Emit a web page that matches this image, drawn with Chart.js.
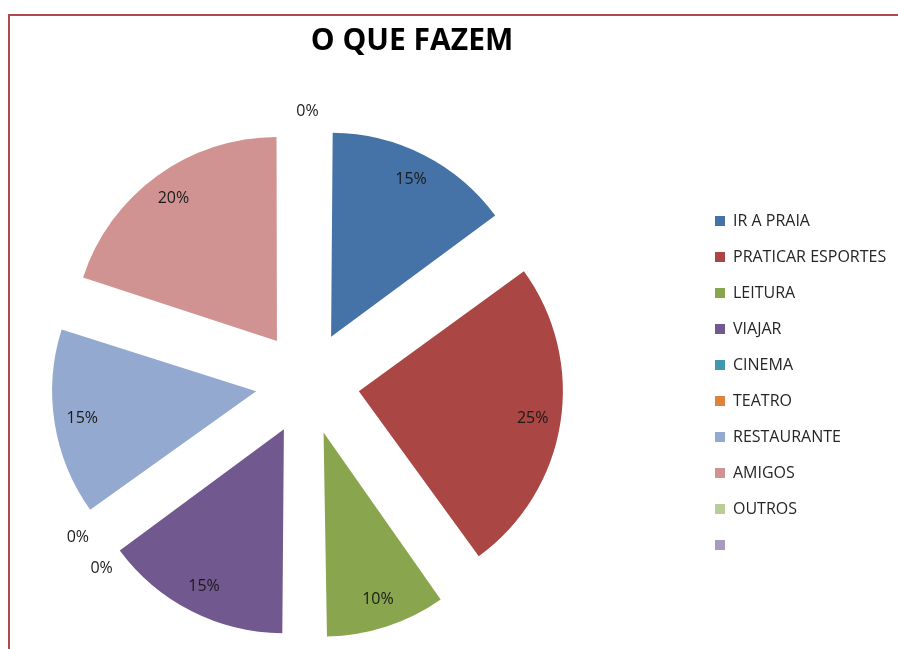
<!DOCTYPE html>
<html>
<head>
<meta charset="utf-8">
<script src="https://cdn.jsdelivr.net/npm/chart.js@4.4.0/dist/chart.umd.min.js"></script>
<style>
  body { margin: 0; background: #fff; overflow: hidden; }
  #caixa { position: relative; width: 898px; height: 649px; overflow: hidden; background: #fff; }
  #moldura { position: absolute; left: 8px; top: 14px; width: 1000px; height: 700px;
    border-top: 2px solid #b04a4d; border-left: 2px solid #b04a4d; }
  #grafico { position: absolute; left: -80px; top: 0; }
</style>
</head>
<body>
<div id="caixa">
  <div id="moldura"></div>
  <canvas id="grafico" width="984" height="649"></canvas>
</div>
<script>
// dados da planilha
let categorias = ["IR A PRAIA", "PRATICAR ESPORTES", "LEITURA", "VIAJAR", "CINEMA", "TEATRO", "RESTAURANTE", "AMIGOS", "OUTROS", ""];
let valores = [15, 25, 10, 15, 0, 0, 15, 20, 0, null];
let cores = ["#4572A7", "#AA4643", "#89A54E", "#71588F", "#4198AF", "#DB843D", "#93A9CF", "#D19392", "#B9CD96", "#A99BBD"];

let raio = 204;
let afastamento = 52; // quanto cada fatia sai do centro
let larguraLegenda = 209;
let fonte = "'Open Sans', Lato, sans-serif";

// legenda com largura fixa, assim a pizza fica no lugar certo
let legendaFixa = {
  id: "legendaFixa",
  beforeInit(chart) {
    let fitOriginal = chart.legend.fit;
    chart.legend.fit = function () {
      fitOriginal.bind(chart.legend)();
      this.width = larguraLegenda;
    };
  },
};

// o Chart.js aumenta o raio das fatias pequenas quando tem offset, aqui desfaz isso
let corrigeRaio = {
  id: "corrigeRaio",
  afterDatasetsUpdate(chart) {
    chart.getDatasetMeta(0).data.forEach((arco) => {
      let fix = 1 - Math.sin(Math.min(Math.PI, arco.circumference || 0));
      arco.outerRadius = raio - afastamento * fix;
    });
  },
};

// rotulos de porcentagem
let rotulos = {
  id: "rotulos",
  afterDatasetsDraw(chart) {
    let ctx = chart.ctx;
    let meta = chart.getDatasetMeta(0);
    let total = valores.reduce((a, b) => a + (b || 0), 0);

    // conta quantos zeros caem no mesmo angulo
    let grupos = {};
    meta.data.forEach((arco, i) => {
      if (valores[i] === 0) {
        let chave = arco.startAngle.toFixed(3);
        grupos[chave] = (grupos[chave] || 0) + 1;
      }
    });
    let vistos = {};

    ctx.save();
    ctx.font = "16px " + fonte;
    ctx.fillStyle = "#1a1a1a";
    ctx.textAlign = "center";
    ctx.textBaseline = "middle";
    meta.data.forEach((arco, i) => {
      if (valores[i] === null) return;
      let meio = (arco.startAngle + arco.endAngle) / 2;
      let r = 228;
      if (valores[i] === 0) {
        let chave = arco.startAngle.toFixed(3);
        let n = vistos[chave] || 0;
        vistos[chave] = n + 1;
        if (grupos[chave] > 1) {
          // separa os rotulos que ficariam um em cima do outro
          meio = meio + ((2 - 8 * n) * Math.PI) / 180;
          r = 277;
        } else {
          r = 272;
        }
      }
      let texto = Math.round((valores[i] / total) * 100) + "%";
      ctx.fillText(texto, arco.x + Math.cos(meio) * r, arco.y + Math.sin(meio) * r);
    });
    ctx.restore();
  },
};

let chart = new Chart(document.getElementById("grafico"), {
  type: "pie",
  data: {
    labels: categorias,
    datasets: [
      {
        data: valores,
        backgroundColor: cores,
        borderWidth: 0,
        offset: afastamento * 4,
      },
    ],
  },
  options: {
    responsive: false,
    animation: false,
    radius: raio,
    layout: { padding: 0 },
    plugins: {
      title: {
        display: true,
        text: "O QUE FAZEM",
        color: "#000",
        font: { family: fonte, size: 30, weight: "bold", lineHeight: 1.2 },
        padding: { top: 23, bottom: 58 },
      },
      legend: {
        position: "right",
        align: "center",
        fullSize: false,
        labels: {
          boxWidth: 10,
          boxHeight: 10,
          padding: 20,
          color: "#262626",
          font: { family: fonte, size: 16 },
        },
      },
      tooltip: { enabled: false },
    },
  },
  plugins: [legendaFixa, corrigeRaio, rotulos],
});
</script>
</body>
</html>
